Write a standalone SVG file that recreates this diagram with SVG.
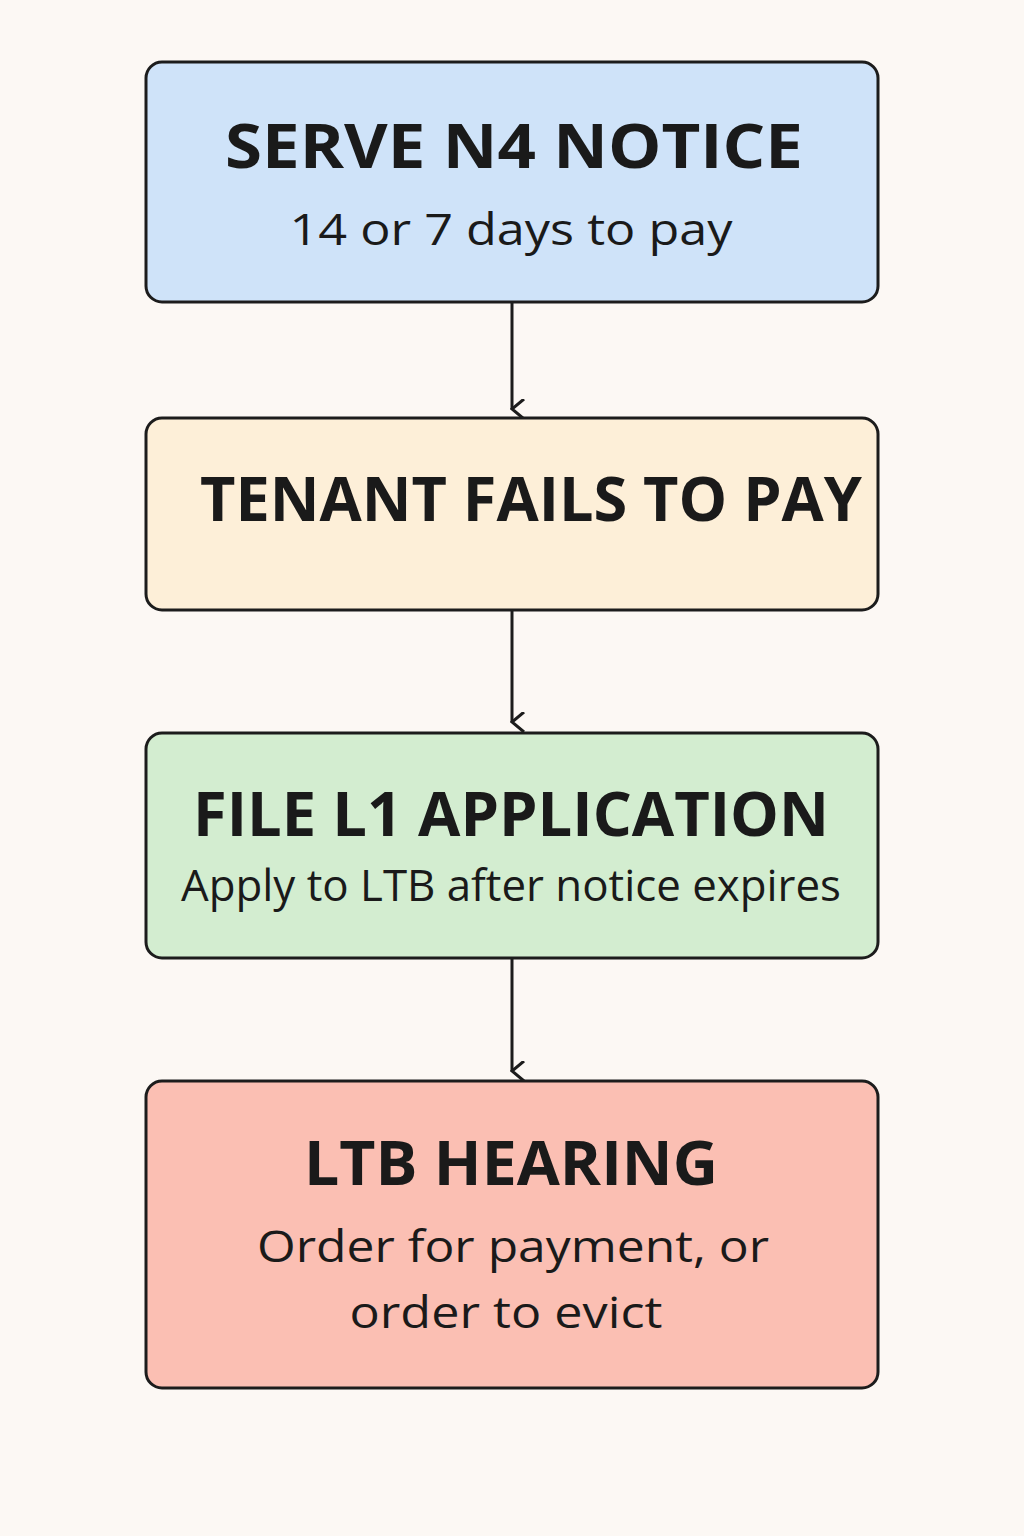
<svg xmlns="http://www.w3.org/2000/svg" width="1024" height="1536" viewBox="0 0 1024 1536">
<style>
.box{stroke:#1c1c1c;stroke-width:3}
.t{font-family:"Open Sans","Liberation Sans",sans-serif;font-weight:bold;font-size:60px;fill:#1a1a1a;text-anchor:middle}
.s{font-family:"Open Sans","Liberation Sans",sans-serif;font-size:44px;fill:#1a1a1a;text-anchor:middle}
.c{stroke:#1c1c1c;stroke-width:3;fill:none}
</style>
<defs><marker id="a" viewBox="0 0 20 20" refX="10" refY="18" markerWidth="20" markerHeight="20" markerUnits="userSpaceOnUse" orient="auto-start-reverse"><path d="M0 6 L10 18 L20 6" fill="none" stroke="#1c1c1c" stroke-width="3"/></marker></defs>
<rect width="1024" height="1536" fill="#fcf8f4"/>
<g id="n1"><rect class="box" x="146" y="62" width="732" height="240" rx="16" fill="#cfe3f9"/>
<text class="t" x="514" y="168" textLength="578" lengthAdjust="spacingAndGlyphs">SERVE N4 NOTICE</text>
<text class="s" x="511" y="245" textLength="443" lengthAdjust="spacingAndGlyphs">14 or 7 days to pay</text></g>
<g id="n2"><rect class="box" x="146" y="418" width="732" height="192" rx="16" fill="#fdefd8"/>
<text class="t" x="531" y="521" textLength="662" lengthAdjust="spacingAndGlyphs">TENANT FAILS TO PAY</text></g>
<g id="n3"><rect class="box" x="146" y="733" width="732" height="225" rx="16" fill="#d3edd0"/>
<text class="t" x="511" y="836" textLength="636" lengthAdjust="spacingAndGlyphs">FILE L1 APPLICATION</text>
<text class="s" x="511" y="901" font-size="40" textLength="660" lengthAdjust="spacingAndGlyphs">Apply to LTB after notice expires</text></g>
<g id="n4"><rect class="box" x="146" y="1081" width="732" height="307" rx="16" fill="#fbbfb3"/>
<text class="t" x="511" y="1185" textLength="414" lengthAdjust="spacingAndGlyphs">LTB HEARING</text>
<text class="s" x="513" y="1262" textLength="512" lengthAdjust="spacingAndGlyphs">Order for payment, or</text>
<text class="s" x="506" y="1328" textLength="313" lengthAdjust="spacingAndGlyphs">order to evict</text></g>
<g id="connectors">
<line class="c" x1="512" y1="303" x2="512" y2="409" marker-end="url(#a)"/>
<line class="c" x1="512" y1="611" x2="512" y2="722" marker-end="url(#a)"/>
<line class="c" x1="512" y1="959" x2="512" y2="1071" marker-end="url(#a)"/>
</g>
</svg>
